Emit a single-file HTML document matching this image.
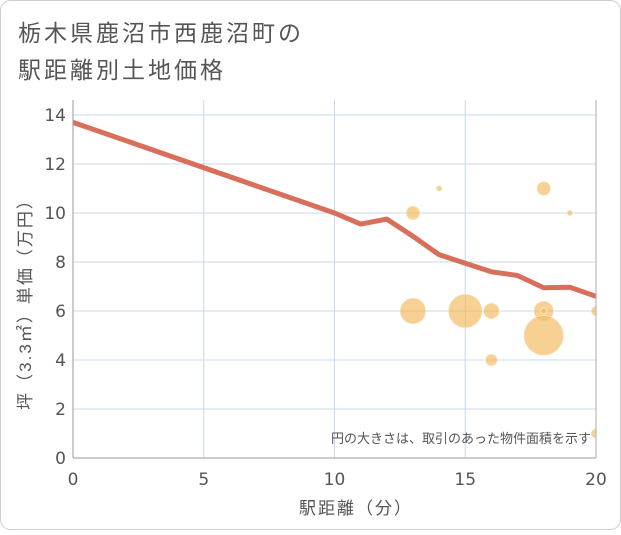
<!DOCTYPE html>
<html><head><meta charset="utf-8"><style>
body{margin:0;background:#fff;font-family:"Liberation Sans","Noto Sans CJK JP",sans-serif;}
#wrap{position:relative;width:621px;height:530px;background:#fff;}
</style></head><body>
<div id="wrap">
<svg id="chart" width="621" height="530" xmlns="http://www.w3.org/2000/svg">
<rect x="0.5" y="0.5" width="620" height="529" rx="10" fill="#fff" stroke="#ccc"/>
<text x="18" y="41" font-size="23" letter-spacing="3" fill="#555">栃木県鹿沼市西鹿沼町の</text>
<text x="18" y="78" font-size="23" letter-spacing="3" fill="#555">駅距離別土地価格</text>
<defs><clipPath id="pc"><rect x="73" y="100" width="523" height="358"/></clipPath></defs>
<g id="grid"></g><g id="bubbles" clip-path="url(#pc)"></g><g id="line"></g><g id="axes"></g>
<text x="591" y="443" font-size="13" fill="#555" text-anchor="end">円の大きさは、取引のあった物件面積を示す</text>
<text x="356" y="514" font-size="17" letter-spacing="2" fill="#555" text-anchor="middle">駅距離（分）</text>
<text transform="translate(31,300) rotate(-90)" font-size="17" letter-spacing="2" fill="#555" text-anchor="middle">坪（3.3㎡）単価（万円）</text>
</svg></div>
<script>
const xTicks=[0,5,10,15,20];
const yTicks=[0,2,4,6,8,10,12,14];
const lineX=[0,10,11,12,13,14,15,16,17,18,19,20];
const lineY=[13.7,10,9.55,9.75,9.05,8.3,7.95,7.6,7.45,6.95,6.97,6.6];
const bubX=[13,14,18,19,13,15,16,18,18,18,16,20,20];
const bubY=[10,11,11,10,6,6,6,6,6,5,4,6,1];
const bubR=[7,3,7,3,13,17,8,10,3,20,6,5,5];
const NS="http://www.w3.org/2000/svg";
const X=v=>73+v*(523/20), Y=v=>458-v*(343/14);
function mk(t,a,p){const e=document.createElementNS(NS,t);for(const k in a)e.setAttribute(k,a[k]);p.appendChild(e);return e;}
const g=document.getElementById('grid'),ax=document.getElementById('axes');
xTicks.forEach(v=>{const l=mk('line',{x1:X(v),x2:X(v),y1:100,y2:458,stroke:'#c8d8e8','stroke-width':1},g);

const t=mk('text',{x:X(v),y:485,'font-size':17,'font-family':'DejaVu Sans, sans-serif',fill:'#555','text-anchor':'middle'},ax);t.textContent=v;
});
yTicks.forEach(v=>{const l=mk('line',{x1:73,x2:596,y1:Y(v),y2:Y(v),stroke:'#c8d8e8','stroke-width':1},g);

const t=mk('text',{x:66,y:Y(v)+6,'font-size':17,'font-family':'DejaVu Sans, sans-serif',fill:'#555','text-anchor':'end'},ax);t.textContent=v;
});
const a1=mk('line',{x1:73,x2:73,y1:100,y2:458,stroke:'#999'},ax);
const a2=mk('line',{x1:73,x2:596,y1:458,y2:458,stroke:'#999'},ax);
const a3=mk('line',{x1:596,x2:596,y1:100,y2:458,stroke:'#aab'},ax);
const b=document.getElementById('bubbles');
bubX.forEach((v,i)=>{const c=mk('circle',{cx:X(v),cy:Y(bubY[i]),r:bubR[i],fill:'#f2b95a','fill-opacity':0.65,stroke:'#fff','stroke-opacity':0.5},b);
});
const p=mk('polyline',{points:lineX.map((v,i)=>X(v)+','+Y(lineY[i])).join(' '),fill:'none',stroke:'#d86f5a','stroke-width':5,'stroke-linejoin':'round'},document.getElementById('line'));

</script>
</body></html>
